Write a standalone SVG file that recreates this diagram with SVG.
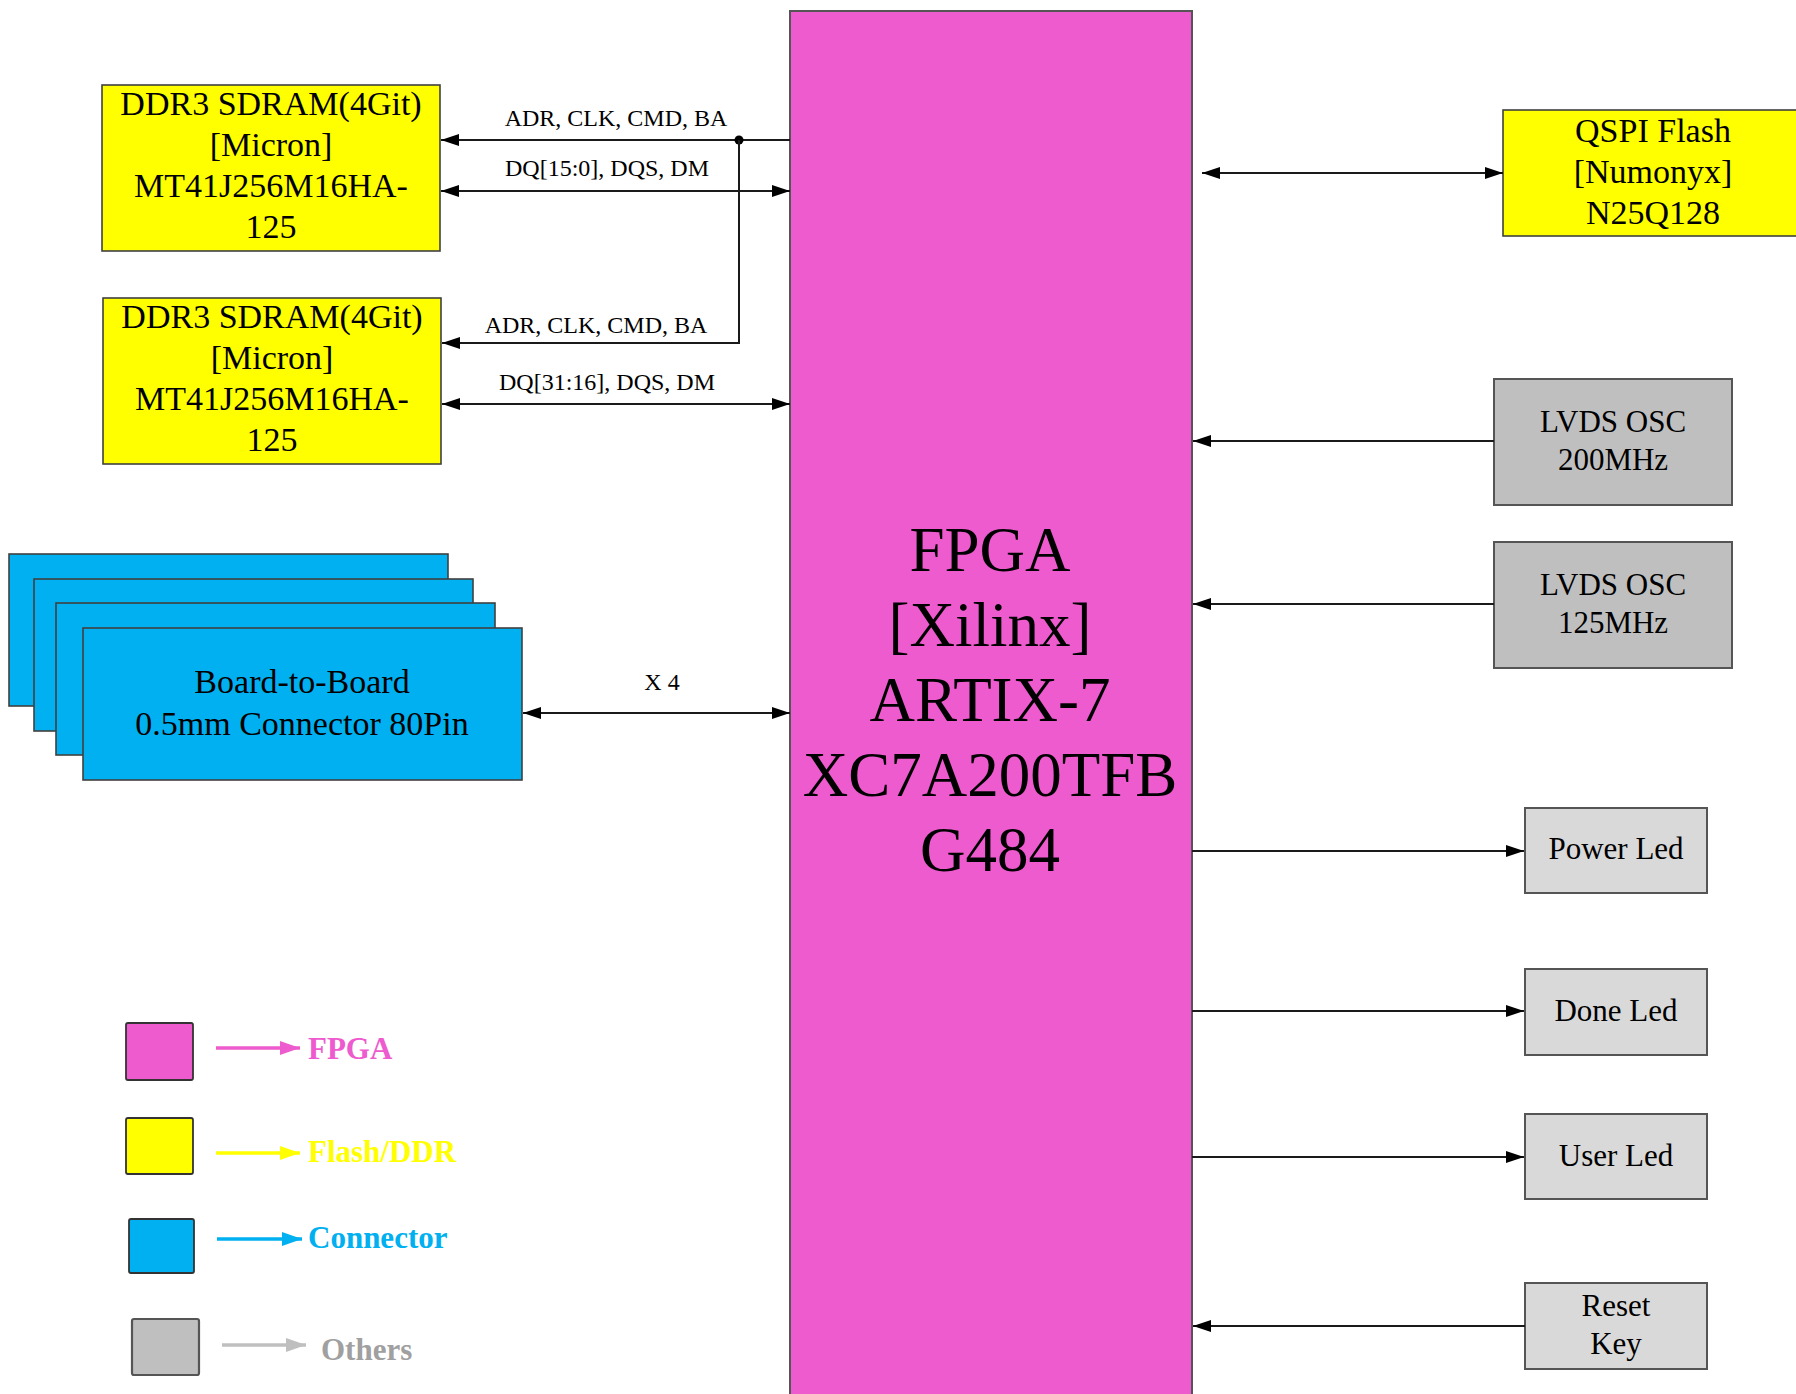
<svg xmlns="http://www.w3.org/2000/svg" width="1796" height="1394" viewBox="0 0 1796 1394">
<style>
text{font-family:"Liberation Serif","Times New Roman",serif;fill:#000}
.box{stroke:#404040;stroke-width:1.6}
.yel{fill:#FFFF00}
.pink{fill:#EE5BCE}
.blue{fill:#00B0F0}
.gray{fill:#BFBFBF;stroke:#555;stroke-width:2}
.lgray{fill:#D9D9D9;stroke:#555;stroke-width:2}
.t34{font-size:34px;text-anchor:middle}
.t31{font-size:31px;text-anchor:middle}
.t24{font-size:24px;text-anchor:middle}
.t63{font-size:63px;text-anchor:middle}
.ln{stroke:#1a1a1a;stroke-width:2;fill:none}
.leg{font-size:31px;font-weight:bold}
</style>
<defs>
<marker id="ah" markerUnits="userSpaceOnUse" markerWidth="19" markerHeight="13" refX="18" refY="6" orient="auto-start-reverse"><path d="M0,0 L18,6 L0,12 z" fill="#000"/></marker>
<marker id="ahP" markerUnits="userSpaceOnUse" markerWidth="21" markerHeight="15" refX="20" refY="7" orient="auto"><path d="M0,0 L20,7 L0,14 z" fill="#EE5BCE"/></marker>
<marker id="ahY" markerUnits="userSpaceOnUse" markerWidth="21" markerHeight="15" refX="20" refY="7" orient="auto"><path d="M0,0 L20,7 L0,14 z" fill="#FFFF00"/></marker>
<marker id="ahB" markerUnits="userSpaceOnUse" markerWidth="21" markerHeight="15" refX="20" refY="7" orient="auto"><path d="M0,0 L20,7 L0,14 z" fill="#00B0F0"/></marker>
<marker id="ahG" markerUnits="userSpaceOnUse" markerWidth="21" markerHeight="15" refX="20" refY="7" orient="auto"><path d="M0,0 L20,7 L0,14 z" fill="#BFBFBF"/></marker>
</defs>
<rect width="1796" height="1394" fill="#fff"/>

<g id="fpga">
<rect class="pink" x="790" y="11" width="402" height="1400" stroke="#555" stroke-width="2"/>
<text class="t63" x="990" y="571">FPGA</text>
<text class="t63" x="990" y="646">[Xilinx]</text>
<text class="t63" x="990" y="721">ARTIX-7</text>
<text class="t63" x="990" y="796">XC7A200TFB</text>
<text class="t63" x="990" y="871">G484</text>
</g>

<g id="ddr1">
<rect class="box yel" x="102" y="85" width="338" height="166"/>
<text class="t34" x="271" y="115">DDR3 SDRAM(4Git)</text>
<text class="t34" x="271" y="156">[Micron]</text>
<text class="t34" x="271" y="197">MT41J256M16HA-</text>
<text class="t34" x="271" y="238">125</text>
</g>

<g id="ddr2">
<rect class="box yel" x="103" y="298" width="338" height="166"/>
<text class="t34" x="272" y="328">DDR3 SDRAM(4Git)</text>
<text class="t34" x="272" y="369">[Micron]</text>
<text class="t34" x="272" y="410">MT41J256M16HA-</text>
<text class="t34" x="272" y="451">125</text>
</g>

<g id="qspi">
<rect class="box yel" x="1503" y="110" width="300" height="126"/>
<text class="t34" x="1653" y="142">QSPI Flash</text>
<text class="t34" x="1653" y="183">[Numonyx]</text>
<text class="t34" x="1653" y="224">N25Q128</text>
</g>

<g id="b2b">
<rect class="box blue" x="9" y="554" width="439" height="152"/>
<rect class="box blue" x="34" y="579" width="439" height="152"/>
<rect class="box blue" x="56" y="603" width="439" height="152"/>
<rect class="box blue" x="83" y="628" width="439" height="152"/>
<text class="t34" x="302" y="693">Board-to-Board</text>
<text class="t34" x="302" y="735">0.5mm Connector 80Pin</text>
</g>

<g id="osc200">
<rect class="gray" x="1494" y="379" width="238" height="126"/>
<text class="t31" x="1613" y="432">LVDS OSC</text>
<text class="t31" x="1613" y="470">200MHz</text>
</g>

<g id="osc125">
<rect class="gray" x="1494" y="542" width="238" height="126"/>
<text class="t31" x="1613" y="595">LVDS OSC</text>
<text class="t31" x="1613" y="633">125MHz</text>
</g>

<g id="powerled">
<rect class="lgray" x="1525" y="808" width="182" height="85"/>
<text class="t31" x="1616" y="859">Power Led</text>
</g>

<g id="doneled">
<rect class="lgray" x="1525" y="969" width="182" height="86"/>
<text class="t31" x="1616" y="1021">Done Led</text>
</g>

<g id="userled">
<rect class="lgray" x="1525" y="1114" width="182" height="85"/>
<text class="t31" x="1616" y="1166">User Led</text>
</g>

<g id="resetkey">
<rect class="lgray" x="1525" y="1283" width="182" height="86"/>
<text class="t31" x="1616" y="1316">Reset</text>
<text class="t31" x="1616" y="1354">Key</text>
</g>

<g id="connectors">
<path class="ln" d="M790,140 L441,140" marker-end="url(#ah)"/>
<circle cx="739" cy="140" r="4.5" fill="#000"/>
<path class="ln" d="M739,140 L739,343 L442,343" marker-end="url(#ah)"/>
<path class="ln" d="M441,191 L790,191" marker-start="url(#ah)" marker-end="url(#ah)"/>
<path class="ln" d="M442,404 L790,404" marker-start="url(#ah)" marker-end="url(#ah)"/>
<path class="ln" d="M523,713 L790,713" marker-start="url(#ah)" marker-end="url(#ah)"/>
<path class="ln" d="M1202,173 L1503,173" marker-start="url(#ah)" marker-end="url(#ah)"/>
<path class="ln" d="M1494,441 L1193,441" marker-end="url(#ah)"/>
<path class="ln" d="M1494,604 L1193,604" marker-end="url(#ah)"/>
<path class="ln" d="M1192,851 L1524,851" marker-end="url(#ah)"/>
<path class="ln" d="M1192,1011 L1524,1011" marker-end="url(#ah)"/>
<path class="ln" d="M1192,1157 L1524,1157" marker-end="url(#ah)"/>
<path class="ln" d="M1525,1326 L1193,1326" marker-end="url(#ah)"/>
<text class="t24" x="616" y="126">ADR, CLK, CMD, BA</text>
<text class="t24" x="607" y="176">DQ[15:0], DQS, DM</text>
<text class="t24" x="596" y="333">ADR, CLK, CMD, BA</text>
<text class="t24" x="607" y="390">DQ[31:16], DQS, DM</text>
<text class="t24" x="662" y="690">X 4</text>
</g>

<g id="legend">
<rect x="126" y="1023" width="67" height="57" rx="2" fill="#EE5BCE" stroke="#333" stroke-width="1.8"/>
<path d="M216,1048 L300,1048" stroke="#EE5BCE" stroke-width="3.5" marker-end="url(#ahP)"/>
<text class="leg" x="308" y="1059" style="fill:#EE5BCE">FPGA</text>
<rect x="126" y="1118" width="67" height="56" rx="2" fill="#FFFF00" stroke="#333" stroke-width="1.8"/>
<path d="M216,1153 L300,1153" stroke="#FFFF00" stroke-width="3.5" marker-end="url(#ahY)"/>
<text class="leg" x="308" y="1162" style="fill:#FFFF00">Flash/DDR</text>
<rect x="129" y="1219" width="65" height="54" rx="2" fill="#00B0F0" stroke="#333" stroke-width="1.8"/>
<path d="M217,1239 L302,1239" stroke="#00B0F0" stroke-width="3.5" marker-end="url(#ahB)"/>
<text class="leg" x="308" y="1248" style="fill:#00B0F0">Connector</text>
<rect x="132" y="1319" width="67" height="56" rx="2" fill="#BFBFBF" stroke="#555" stroke-width="2.2"/>
<path d="M222,1345 L306,1345" stroke="#BFBFBF" stroke-width="3.5" marker-end="url(#ahG)"/>
<text class="leg" x="321" y="1360" style="fill:#A0A0A0">Others</text>
</g>
</svg>
